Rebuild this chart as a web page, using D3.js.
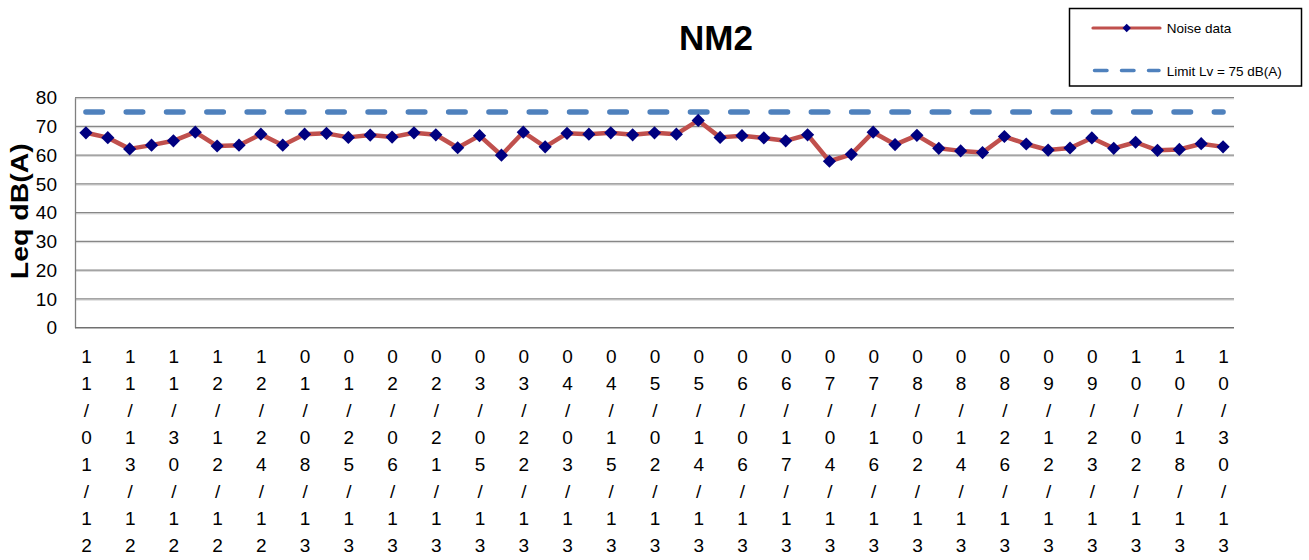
<!DOCTYPE html>
<html>
<head>
<meta charset="utf-8">
<script src="https://cdn.jsdelivr.net/npm/d3@7"></script>
<style>
  html, body { margin: 0; padding: 0; background: #fff; }
  svg { display: block; font-family: "Liberation Sans", Arial, sans-serif; }
</style>
</head>
<body>
<svg id="chart" width="1309" height="560"></svg>
<script>
// Sampling dates shown under every second measurement
const tickLabels = [
  "11/01/12", "11/13/12", "11/30/12", "12/12/12", "12/24/12", "01/08/13",
  "01/25/13", "02/06/13", "02/21/13", "03/05/13", "03/22/13", "04/03/13",
  "04/15/13", "05/02/13", "05/14/13", "06/06/13", "06/17/13", "07/04/13",
  "07/16/13", "08/02/13", "08/14/13", "08/26/13", "09/12/13", "09/23/13",
  "10/02/13", "10/18/13", "10/30/13"
];

// Measured Leq values, dB(A)
const noise = [
  67.8, 66.1, 62.2, 63.5, 65.0, 68.0, 63.2, 63.5, 67.3, 63.5,
  67.3, 67.6, 66.2, 67.0, 66.3, 67.8, 67.1, 62.6, 66.8, 60.0,
  68.0, 62.9, 67.6, 67.3, 67.8, 67.1, 67.8, 67.3, 72.1, 66.2,
  66.8, 66.0, 65.0, 67.1, 57.9, 60.3, 68.0, 63.7, 66.9, 62.4,
  61.5, 60.9, 66.5, 63.9, 61.8, 62.5, 66.0, 62.4, 64.5, 61.7,
  62.0, 64.0, 62.9
];

const limitValue = 75;
const yTicks = [0, 10, 20, 30, 40, 50, 60, 70, 80];

const svg = d3.select("#chart");
const plot = { left: 75, right: 1234, top: 97.7, bottom: 327.7 };

const x = d3.scalePoint()
  .domain(d3.range(noise.length))
  .range([plot.left, plot.right])
  .padding(0.5);

const y = d3.scaleLinear()
  .domain([0, 80])
  .range([plot.bottom, plot.top]);

// Horizontal gridlines with a soft lower edge
const grid = svg.append("g");
yTicks.filter(t => t > 0).forEach(t => {
  grid.append("line")
    .attr("x1", plot.left).attr("x2", plot.right)
    .attr("y1", y(t) + 1.2).attr("y2", y(t) + 1.2)
    .attr("stroke", "#d6d6d6").attr("stroke-width", 1);
  grid.append("line")
    .attr("x1", plot.left).attr("x2", plot.right)
    .attr("y1", y(t)).attr("y2", y(t))
    .attr("stroke", "#878787").attr("stroke-width", 1.3);
});

// Y axis
const yAxis = svg.append("g")
  .attr("transform", `translate(${plot.left},0)`)
  .call(d3.axisLeft(y).tickValues(yTicks).tickSize(0).tickPadding(18));
yAxis.select(".domain").attr("stroke", "#808080").attr("stroke-width", 1.3);
yAxis.selectAll("text")
  .attr("font-size", 19)
  .attr("font-family", "Liberation Sans, Arial, sans-serif")
  .attr("fill", "#000");

// X axis, one character per line
const xAxis = svg.append("g")
  .attr("transform", `translate(0,${plot.bottom})`)
  .call(d3.axisBottom(x)
    .tickValues(d3.range(0, noise.length, 2))
    .tickSize(0)
    .tickFormat(i => tickLabels[i / 2]));
xAxis.select(".domain")
  .attr("d", `M${plot.left},0H${plot.right}`)
  .attr("stroke", "#707070").attr("stroke-width", 1.6);
xAxis.selectAll(".tick text").each(function(i) {
  const t = d3.select(this);
  const label = tickLabels[i / 2];
  t.text(null)
    .attr("y", 0).attr("dy", null)
    .attr("font-size", 19)
    .attr("font-family", "Liberation Sans, Arial, sans-serif")
    .attr("fill", "#000");
  label.split("").forEach((ch, k) => {
    t.append("tspan")
      .attr("x", 0)
      .attr("y", 35.8 + k * 26.9)
      .text(ch);
  });
});

// Limit line
svg.append("line")
  .attr("x1", x(0)).attr("x2", x(noise.length - 1))
  .attr("y1", y(limitValue)).attr("y2", y(limitValue))
  .attr("stroke", "#4F81BD")
  .attr("stroke-width", 5.5)
  .attr("stroke-linecap", "round")
  .attr("stroke-dasharray", "16.5,23.8");

// Noise series
const line = d3.line().x((d, i) => x(i)).y(d => y(d));
svg.append("path")
  .datum(noise)
  .attr("d", line)
  .attr("fill", "none")
  .attr("stroke", "#C0504D")
  .attr("stroke-width", 4.5)
  .attr("stroke-linejoin", "round");

const diamond = s => `M0,${-s}L${s},0L0,${s}L${-s},0Z`;
svg.append("g").selectAll("path")
  .data(noise)
  .join("path")
  .attr("d", diamond(6.6))
  .attr("transform", (d, i) => `translate(${x(i)},${y(d)})`)
  .attr("fill", "#000080");

// Title
svg.append("text")
  .attr("x", 716).attr("y", 49.5)
  .attr("text-anchor", "middle")
  .attr("font-size", 35)
  .attr("font-weight", "bold")
  .text("NM2");

// Y axis title
svg.append("text")
  .attr("transform", `translate(28,${(plot.top + plot.bottom) / 2 - 1.5}) rotate(-90)`)
  .attr("text-anchor", "middle")
  .attr("font-size", 24)
  .attr("font-weight", "bold")
  .attr("textLength", 136)
  .attr("lengthAdjust", "spacingAndGlyphs")
  .text("Leq dB(A)");

// Legend
const lg = svg.append("g");
lg.append("rect")
  .attr("x", 1069.5).attr("y", 8.5)
  .attr("width", 232).attr("height", 77.5)
  .attr("fill", "#fff")
  .attr("stroke", "#000").attr("stroke-width", 1.5);
lg.append("line")
  .attr("x1", 1093).attr("x2", 1160).attr("y1", 28).attr("y2", 28)
  .attr("stroke", "#C0504D").attr("stroke-width", 3.2).attr("stroke-linecap", "round");
lg.append("path")
  .attr("d", diamond(4.2))
  .attr("transform", "translate(1126.7,28)")
  .attr("fill", "#000080");
lg.append("line")
  .attr("x1", 1094.5).attr("x2", 1159).attr("y1", 70.5).attr("y2", 70.5)
  .attr("stroke", "#4F81BD").attr("stroke-width", 3.5).attr("stroke-linecap", "round")
  .attr("stroke-dasharray", "12.5,14.5");
lg.append("text")
  .attr("x", 1166.7).attr("y", 33)
  .attr("font-size", 13.5)
  .text("Noise data");
lg.append("text")
  .attr("x", 1166.7).attr("y", 75.5)
  .attr("font-size", 13.5)
  .text("Limit Lv = 75 dB(A)");
</script>
</body>
</html>
